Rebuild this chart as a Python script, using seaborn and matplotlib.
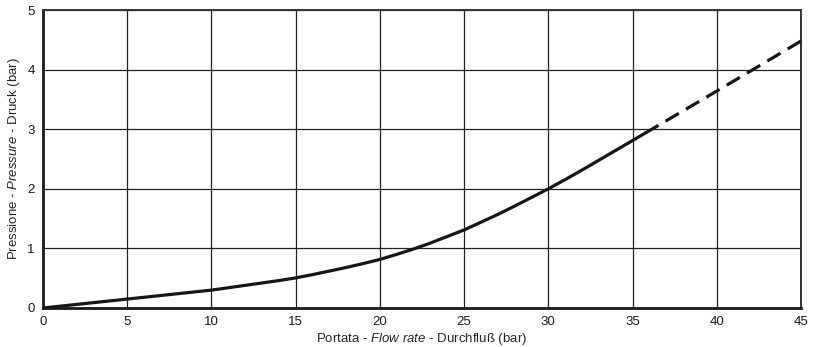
import pandas as pd
import matplotlib.pyplot as plt
import seaborn as sns

# font setup
sns.set_style("white")
plt.rcParams['font.family'] = ['Liberation Sans', 'DejaVu Sans']
plt.rcParams['mathtext.fontset'] = 'custom'
plt.rcParams['mathtext.rm'] = 'Liberation Sans'
plt.rcParams['mathtext.it'] = 'Liberation Sans:italic'

# curve (solid part, then dashed extension)
flow_solid = [0, 1, 2, 3, 4, 5, 6, 7, 8, 9, 10, 11, 12, 13, 14, 15, 16, 17, 18,
              19, 20, 21, 22, 23, 24, 25, 26, 27, 28, 29, 30, 31, 32, 33, 34, 35, 35.75]
pressure_solid = [0, 0.03, 0.06, 0.09, 0.12, 0.15, 0.18, 0.21, 0.24, 0.27, 0.30,
                  0.34, 0.38, 0.42, 0.46, 0.505, 0.56, 0.62, 0.68, 0.745, 0.815,
                  0.9, 0.99, 1.09, 1.2, 1.31, 1.44, 1.57, 1.71, 1.855, 2.0,
                  2.155, 2.315, 2.48, 2.645, 2.81, 2.935]
flow_dash = [35.75, 40, 45]
pressure_dash = [2.935, 3.64, 4.48]

x_ticks = [0, 5, 10, 15, 20, 25, 30, 35, 40, 45]
y_ticks = [0, 1, 2, 3, 4, 5]

df_solid = pd.DataFrame({'flow': flow_solid, 'pressure': pressure_solid})
df_dash = pd.DataFrame({'flow': flow_dash, 'pressure': pressure_dash})

fig = plt.figure(figsize=(8.19, 3.47), dpi=100)
ax = fig.add_axes([0.0525, 0.1124, 0.9255, 0.8586])

sns.lineplot(data=df_solid, x='flow', y='pressure', color='#161616', linewidth=2.3, ax=ax, zorder=3)
sns.lineplot(data=df_dash, x='flow', y='pressure', color='#161616', linewidth=2.3,
             linestyle=(0, (4.8, 2.6)), ax=ax, zorder=3)

ax.set_xlim(0, 45)
ax.set_ylim(0, 5)
ax.set_xticks(x_ticks)
ax.set_yticks(y_ticks)
ax.grid(True, color='#222222', linewidth=0.9)
ax.set_axisbelow(True)

for side in ['left', 'bottom']:
    ax.spines[side].set_linewidth(2.0)
    ax.spines[side].set_color('#1a1a1a')
for side in ['top', 'right']:
    ax.spines[side].set_linewidth(1.4)
    ax.spines[side].set_color('#333333')

ax.tick_params(axis='both', direction='out', length=4, width=1, colors='#1a1a1a', labelsize=9.5, pad=2)

ax.set_xlabel(r'Portata - $\mathit{Flow\ rate}$ - Durchfluß (bar)', fontsize=9.5, labelpad=2)
ax.set_ylabel(r'Pressione - $\mathit{Pressure}$ - Druck (bar)', fontsize=9.5, labelpad=4)

plt.savefig('out.png', dpi=100)
